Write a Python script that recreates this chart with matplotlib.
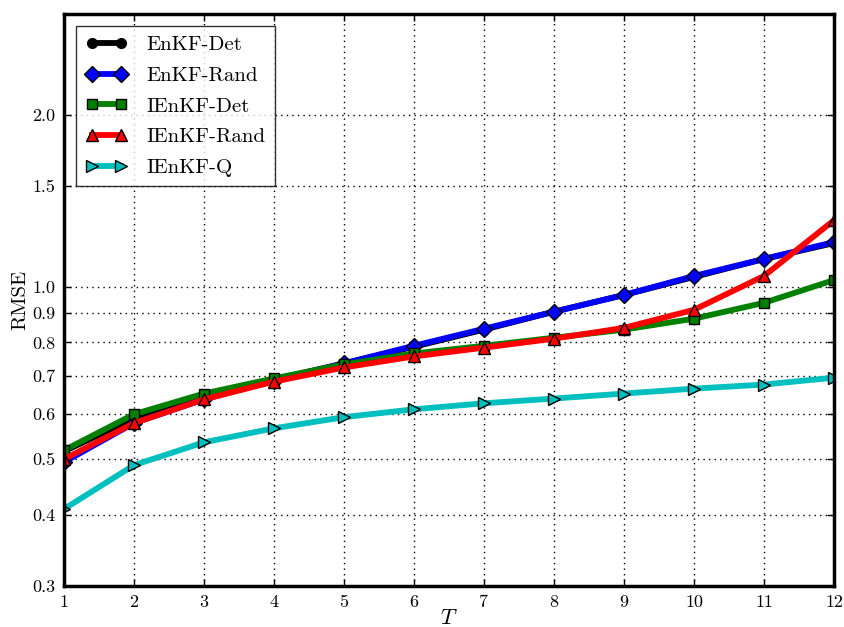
import numpy as np
import matplotlib
matplotlib.use('Agg')
import matplotlib.pyplot as plt
from matplotlib.ticker import FixedLocator, FixedFormatter, NullLocator

plt.rcParams['font.family'] = ['cmr10', 'DejaVu Serif']
plt.rcParams['mathtext.fontset'] = 'cm'
plt.rcParams['axes.formatter.use_mathtext'] = True

# data
T = [1, 2, 3, 4, 5, 6, 7, 8, 9, 10, 11, 12]
enkf_det = [0.516, 0.589, 0.641, 0.689, 0.735, 0.786, 0.842, 0.905, 0.968, 1.041, 1.119, 1.193]
enkf_rand = [0.494, 0.578, 0.636, 0.686, 0.735, 0.789, 0.845, 0.905, 0.968, 1.045, 1.119, 1.198]
ienkf_det = [0.518, 0.599, 0.651, 0.692, 0.732, 0.765, 0.789, 0.815, 0.842, 0.880, 0.938, 1.028]
ienkf_rand = [0.500, 0.578, 0.636, 0.683, 0.723, 0.756, 0.783, 0.812, 0.848, 0.912, 1.045, 1.308]
ienkf_q = [0.409, 0.488, 0.535, 0.566, 0.592, 0.611, 0.626, 0.638, 0.651, 0.664, 0.675, 0.694]

yticks = [0.3, 0.4, 0.5, 0.6, 0.7, 0.8, 0.9, 1.0, 1.5, 2.0]
ytick_labels = ['0.3', '0.4', '0.5', '0.6', '0.7', '0.8', '0.9', '1.0', '1.5', '2.0']

fig = plt.figure(figsize=(8.45, 6.27), dpi=100)
ax = fig.add_axes([64/845, 1-586/627, (834-64)/845, (586-14)/627])

lw = 4.2
ms = 7
ax.plot(T, enkf_det, color='k', marker='o', lw=lw, ms=ms, mec='k', label='EnKF-Det')
ax.plot(T, enkf_rand, color='b', marker='D', lw=lw, ms=ms+1, mec='k', label='EnKF-Rand')
ax.plot(T, ienkf_det, color='g', marker='s', lw=lw, ms=ms, mec='k', label='IEnKF-Det')
ax.plot(T, ienkf_rand, color='r', marker='^', lw=lw, ms=ms+1, mec='k', label='IEnKF-Rand')
ax.plot(T, ienkf_q, color='c', marker='>', lw=lw, ms=ms+1, mec='k', label='IEnKF-Q')

ax.set_yscale('log')
ax.set_xlim(1, 12)
ax.set_ylim(0.3, 3.0)
ax.xaxis.set_major_locator(FixedLocator(T))
ax.xaxis.set_major_formatter(FixedFormatter([str(t) for t in T]))
ax.yaxis.set_major_locator(FixedLocator(yticks))
ax.yaxis.set_major_formatter(FixedFormatter(ytick_labels))
ax.yaxis.set_minor_locator(NullLocator())
ax.xaxis.set_minor_locator(NullLocator())
ax.tick_params(direction='in', length=5, width=1, labelsize=13, top=True, right=True, pad=6)
ax.grid(True, color='k', linestyle=(0, (1, 3)), linewidth=1)

for s in ax.spines.values():
    s.set_linewidth(2.5)

ax.set_xlabel('$T$', fontsize=16, labelpad=-1)
ax.set_ylabel('RMSE', fontsize=15, labelpad=2)

leg = ax.legend(loc='upper left', numpoints=2, fontsize=15, fancybox=False,
                handlelength=2.0, handletextpad=0.9, borderaxespad=0.6,
                labelspacing=0.58, borderpad=0.45)
leg.get_frame().set_edgecolor('k')
leg.get_frame().set_linewidth(1)

fig.savefig('out.png', dpi=100)
